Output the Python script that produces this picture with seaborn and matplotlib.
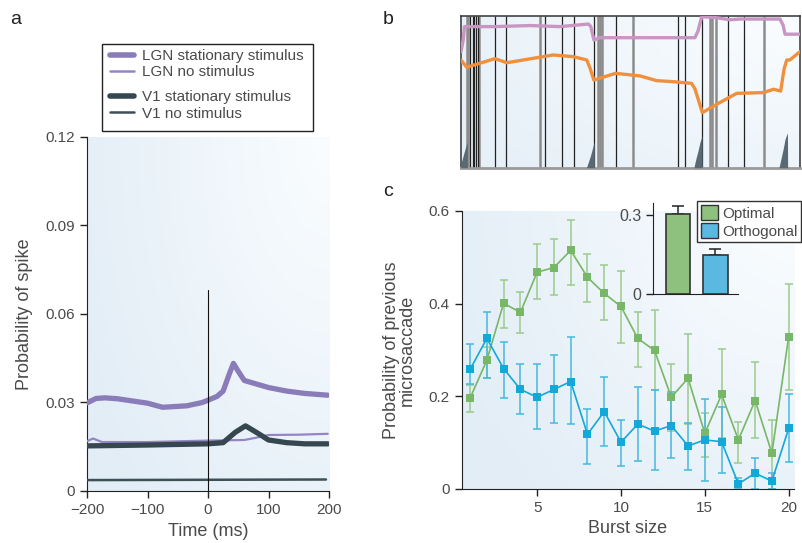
import numpy as np
import matplotlib
matplotlib.use("Agg")
import matplotlib.pyplot as plt
from matplotlib.patches import Rectangle, Patch
from matplotlib.lines import Line2D
import seaborn as sns

# ---------------------------------------------------------
# Panel a: spike probability around microsaccade onset
# ---------------------------------------------------------
t_lgn_stat = [-200, -185, -170, -150, -120, -100, -75, -35, -10, 0, 15, 25, 35, 42, 50, 60, 80, 100, 130, 160, 198]
lgn_stat = [0.0298, 0.0313, 0.0315, 0.0312, 0.0303, 0.0297, 0.0283, 0.0288, 0.0299, 0.0307, 0.0320, 0.0338,
            0.0395, 0.0432, 0.0405, 0.0374, 0.0362, 0.0350, 0.0338, 0.0330, 0.0324]
t_lgn_no = [-200, -190, -175, -100, 0, 60, 80, 100, 150, 198]
lgn_no = [0.0168, 0.0177, 0.0165, 0.0165, 0.0170, 0.0172, 0.0180, 0.0189, 0.0190, 0.0193]
t_v1_stat = [-200, -100, 0, 25, 45, 62, 80, 100, 130, 160, 198]
v1_stat = [0.0152, 0.0155, 0.0159, 0.0163, 0.0198, 0.0220, 0.0198, 0.0172, 0.0163, 0.0159, 0.0159]
t_v1_no = [-200, 195]
v1_no = [0.0036, 0.0038]
onset_top = 0.068

a_xticks = [-200, -100, 0, 100, 200]
a_xlabels = ["\u2212200", "\u2212100", "0", "100", "200"]
a_yticks = [0, 0.03, 0.06, 0.09, 0.12]
a_ylabels = ["0", "0.03", "0.06", "0.09", "0.12"]

# ---------------------------------------------------------
# Panel b: example trace with events
# ---------------------------------------------------------
pink_x = [0, 0.7, 1.0, 10, 20.4, 29.2, 37.6, 38.3, 39.2, 41, 69, 69.9, 71, 74.9, 79.3, 82.3, 94.1, 95, 95.6, 100]
pink_y = [0.765, 0.85, 0.93, 0.93, 0.937, 0.93, 0.947, 0.93, 0.842, 0.857, 0.857, 0.90, 0.995, 0.99, 0.975,
          0.98, 0.98, 0.94, 0.88, 0.88]
orange_x = [0, 1.7, 10, 13.5, 27.2, 33.1, 37.1, 38.0, 39.2, 45.6, 52.8, 57.7, 62.6, 68, 69, 71.2, 76.4, 81.3,
            89.2, 92.2, 94.3, 95.3, 96.1, 97, 100]
orange_y = [0.71, 0.662, 0.719, 0.692, 0.743, 0.732, 0.71, 0.66, 0.578, 0.622, 0.605, 0.574, 0.567, 0.556,
            0.52, 0.363, 0.43, 0.49, 0.495, 0.517, 0.505, 0.65, 0.71, 0.71, 0.765]
black_events = [2.74, 3.45, 3.92, 4.34, 4.93, 10.0, 13.2, 24.8, 29.7, 33.4, 39.3, 45.7, 63.9, 66.2, 71.2,
                78.7, 83.6]
gray_events = [1.68, 2.15, 5.4, 23.2, 40.3, 41.1, 41.7, 50.6, 73.5, 74.0, 75.2, 89.4]
spike_x = [[0, 0.4, 0.9, 1.4, 1.85, 1.9],
           [37.0, 37.6, 38.2, 38.8, 39.3, 39.35],
           [68.7, 69.3, 69.9, 70.5, 71.1, 71.15],
           [93.8, 94.4, 95.0, 95.6, 96.3, 96.35]]
spike_y = [[0.03, 0.06, 0.10, 0.14, 0.17, 0],
           [0, 0.04, 0.08, 0.13, 0.17, 0],
           [0, 0.06, 0.11, 0.17, 0.21, 0],
           [0, 0.06, 0.12, 0.19, 0.23, 0]]

# ---------------------------------------------------------
# Panel c: probability of previous microsaccade vs burst size
# ---------------------------------------------------------
burst = list(range(1, 21))
opt = [0.196, 0.278, 0.401, 0.381, 0.468, 0.478, 0.515, 0.457, 0.422, 0.394,
       0.325, 0.299, 0.198, 0.239, 0.120, 0.204, 0.106, 0.191, 0.077, 0.329]
opt_hi = [0.224, 0.307, 0.451, 0.426, 0.528, 0.539, 0.581, 0.507, 0.483, 0.471,
          0.383, 0.386, 0.270, 0.335, 0.165, 0.302, 0.145, 0.275, 0.150, 0.442]
opt_lo = [0.167, 0.239, 0.347, 0.336, 0.410, 0.419, 0.440, 0.403, 0.365, 0.316,
          0.264, 0.214, 0.126, 0.140, 0.068, 0.109, 0.057, 0.109, 0.0, 0.214]
orth = [0.258, 0.325, 0.260, 0.215, 0.198, 0.215, 0.232, 0.118, 0.167, 0.101,
        0.140, 0.125, 0.137, 0.093, 0.106, 0.102, 0.011, 0.034, 0.017, 0.131]
orth_hi = [0.314, 0.381, 0.317, 0.270, 0.270, 0.289, 0.327, 0.173, 0.242, 0.149,
           0.221, 0.214, 0.210, 0.142, 0.194, 0.176, 0.023, 0.066, 0.035, 0.205]
orth_lo = [0.226, 0.240, 0.196, 0.161, 0.129, 0.142, 0.140, 0.053, 0.093, 0.050,
           0.061, 0.042, 0.066, 0.041, 0.017, 0.035, 0.0, 0.0, 0.0, 0.059]
c_xticks = [5, 10, 15, 20]
c_yticks = [0, 0.2, 0.4, 0.6]
c_ylabels = ["0", "0.2", "0.4", "0.6"]

inset_cats = ["Optimal", "Orthogonal"]
inset_vals = [0.305, 0.149]
inset_err = [0.030, 0.021]

# colours
LGN = "#8a7bb9"
V1 = "#37474f"
GREEN = "#77b767"
GREEN_ERR = "#9acb8c"
BLUE = "#12a9d9"
BLUE_ERR = "#46b8df"
BAR_GREEN = "#8ec07e"
BAR_BLUE = "#5bb9e1"
TXT = "#4a4a4a"

sns.set_style("ticks")
plt.rcParams["font.family"] = ["Liberation Sans", "DejaVu Sans"]
plt.rcParams["text.color"] = TXT
plt.rcParams["axes.labelcolor"] = TXT
plt.rcParams["xtick.color"] = "#222222"
plt.rcParams["ytick.color"] = "#222222"
plt.rcParams["xtick.labelcolor"] = TXT
plt.rcParams["ytick.labelcolor"] = TXT

W, H = 802, 543


def box(l, t, r, b):
    return [l / W, 1 - b / H, (r - l) / W, (b - t) / H]


def add_wash(ax, strength=1.0):
    """light blue wash, darker bottom-left, fading to white top-right"""
    xx, yy = np.meshgrid(np.linspace(0, 1, 200), np.linspace(0, 1, 200))
    d = np.clip(np.sqrt((1 - xx) ** 2 * 1.0 + yy ** 2 * 0.6) / 1.15, 0, 1) * strength
    light = np.array([250, 253, 255]) / 255
    dark = np.array([226, 237, 246]) / 255
    img = light[None, None, :] * (1 - d[..., None]) + dark[None, None, :] * d[..., None]
    x0, x1 = ax.get_xlim()
    y0, y1 = ax.get_ylim()
    ax.imshow(img, extent=(x0, x1, y0, y1), origin="upper", aspect="auto", zorder=0)
    ax.set_xlim(x0, x1)
    ax.set_ylim(y0, y1)


fig = plt.figure(figsize=(W / 100, H / 100), dpi=100)

# ---------------- panel a ----------------
ax_a = fig.add_axes(box(87, 137, 329, 490.7))
ax_a.set_xlim(-200, 200)
ax_a.set_ylim(0, 0.12)
add_wash(ax_a)
sns.lineplot(x=t_lgn_stat, y=lgn_stat, ax=ax_a, color=LGN, lw=3.8, zorder=3)
sns.lineplot(x=t_lgn_no, y=lgn_no, ax=ax_a, color="#9585c4", lw=1.6, zorder=3)
sns.lineplot(x=t_v1_stat, y=v1_stat, ax=ax_a, color=V1, lw=3.8, zorder=4)
sns.lineplot(x=t_v1_no, y=v1_no, ax=ax_a, color="#3d4f58", lw=1.8, zorder=3)
ax_a.plot([0, 0], [0, onset_top], color="#111111", lw=0.8, zorder=5)
ax_a.set_xticks(a_xticks, a_xlabels)
ax_a.set_yticks(a_yticks, a_ylabels)
ax_a.tick_params(labelsize=11, length=5, width=1, direction="out")
ax_a.set_xlabel("Time (ms)", fontsize=13, labelpad=5)
ax_a.set_ylabel("Probability of spike", fontsize=13, labelpad=9)
sns.despine(ax=ax_a)
for s in ["left", "bottom"]:
    ax_a.spines[s].set_color("#222222")

# legend of panel a: one frame, two groups
fig.patches.append(Rectangle((101.7 / W, 1 - 130.7 / H), 211.6 / W, 86.7 / H, transform=fig.transFigure,
                             fill=False, edgecolor="#222222", lw=1.0))
h_lgn = [Line2D([], [], color=LGN, lw=4), Line2D([], [], color="#9585c4", lw=1.8)]
h_v1 = [Line2D([], [], color=V1, lw=4), Line2D([], [], color="#3d4f58", lw=1.8)]
leg_kw = dict(loc="upper left", frameon=False, fontsize=11, handlelength=1.6, handletextpad=0.5,
              labelspacing=0.15, borderpad=0, borderaxespad=0)
fig.legend(h_lgn, ["LGN stationary stimulus", "LGN no stimulus"],
           bbox_to_anchor=(110 / W, 1 - 49 / H), **leg_kw)
fig.legend(h_v1, ["V1 stationary stimulus", "V1 no stimulus"],
           bbox_to_anchor=(110 / W, 1 - 90.5 / H), **leg_kw)

# ---------------- panel b ----------------
ax_b = fig.add_axes(box(461, 16, 800, 167.7))
ax_b.set_xlim(0, 100)
ax_b.set_ylim(0, 1)
add_wash(ax_b, 0.8)
ax_b.vlines(gray_events, 0, 1, color="#8c8c8c", lw=1.8, zorder=2)
ax_b.vlines(black_events, 0, 1, color="#222222", lw=0.9, zorder=2)
for sx, sy in zip(spike_x, spike_y):
    ax_b.fill_between(sx, 0, sy, color="#5a6a75", lw=0, zorder=3)
sns.lineplot(x=pink_x, y=pink_y, ax=ax_b, color="#c996c4", lw=2.4, zorder=4)
sns.lineplot(x=orange_x, y=orange_y, ax=ax_b, color="#f0903c", lw=2.4, zorder=4)
ax_b.set_xticks([])
ax_b.set_yticks([])
for s in ax_b.spines.values():
    s.set_color("#333333")
    s.set_linewidth(1.1)
ax_b.spines["bottom"].set_color("#9a9a9a")
ax_b.spines["bottom"].set_linewidth(2)

# ---------------- panel c ----------------
ax_c = fig.add_axes(box(461.7, 211, 793.7, 489))
ax_c.set_xlim(0.5, 20.3)
ax_c.set_ylim(0, 0.6)
add_wash(ax_c)
ax_c.errorbar(burst, opt, yerr=[np.subtract(opt, opt_lo), np.subtract(opt_hi, opt)], fmt="none",
              ecolor=GREEN_ERR, elinewidth=1.1, capsize=2.6, capthick=1.1, zorder=2)
ax_c.errorbar(burst, orth, yerr=[np.subtract(orth, orth_lo), np.subtract(orth_hi, orth)], fmt="none",
              ecolor=BLUE_ERR, elinewidth=1.1, capsize=2.6, capthick=1.1, zorder=2)
sns.lineplot(x=burst, y=opt, ax=ax_c, color=GREEN, lw=1.2, marker="s", markersize=6,
             markeredgewidth=0, zorder=4)
sns.lineplot(x=burst, y=orth, ax=ax_c, color=BLUE, lw=1.2, marker="s", markersize=6,
             markeredgewidth=0, zorder=4)
ax_c.set_xticks(c_xticks)
ax_c.set_yticks(c_yticks, c_ylabels)
ax_c.tick_params(labelsize=11, length=5, width=1, direction="out")
ax_c.set_xlabel("Burst size", fontsize=13, labelpad=4)
ax_c.set_ylabel("Probability of previous\nmicrosaccade", fontsize=13, labelpad=9, linespacing=0.95)
sns.despine(ax=ax_c)
for s in ["left", "bottom"]:
    ax_c.spines[s].set_color("#222222")

# inset bars
ax_i = fig.add_axes(box(653.3, 202.7, 738.3, 294.3))
ax_i.patch.set_alpha(0)
sns.barplot(x=inset_cats, y=inset_vals, hue=inset_cats, palette=[BAR_GREEN, BAR_BLUE], legend=False,
            saturation=1, width=0.66, edgecolor="#333333", linewidth=1.2, ax=ax_i, zorder=3)
ax_i.errorbar([0, 1], inset_vals, yerr=[[0, 0], inset_err], fmt="none", ecolor="#222222",
              elinewidth=1.1, capsize=4, capthick=1.1, zorder=2)
ax_i.set_xlim(-0.664, 1.62)
ax_i.set_ylim(0, 0.347)
ax_i.set_xticks([])
ax_i.set_yticks([0, 0.3], ["0", "0.3"])
ax_i.set_ylabel("")
ax_i.tick_params(labelsize=11.5, length=5, width=1, direction="out")
sns.despine(ax=ax_i)
for s in ["left", "bottom"]:
    ax_i.spines[s].set_color("#222222")

fig.legend([Patch(facecolor=BAR_GREEN, edgecolor="#333333"), Patch(facecolor=BAR_BLUE, edgecolor="#333333")],
           inset_cats, loc="upper left", bbox_to_anchor=(697 / W, 1 - 201 / H), fontsize=11,
           frameon=True, fancybox=False, edgecolor="#333333", framealpha=1, borderpad=0.25,
           borderaxespad=0, handlelength=1.15, handleheight=1.15, handletextpad=0.25, labelspacing=0.15)

# panel letters
for lab, x, y in [("a", 10, 20), ("b", 383, 20), ("c", 383, 192)]:
    fig.text(x / W, 1 - y / H, lab, fontsize=14, color="#222222", va="center", ha="left")

fig.savefig("out.png", dpi=100)
